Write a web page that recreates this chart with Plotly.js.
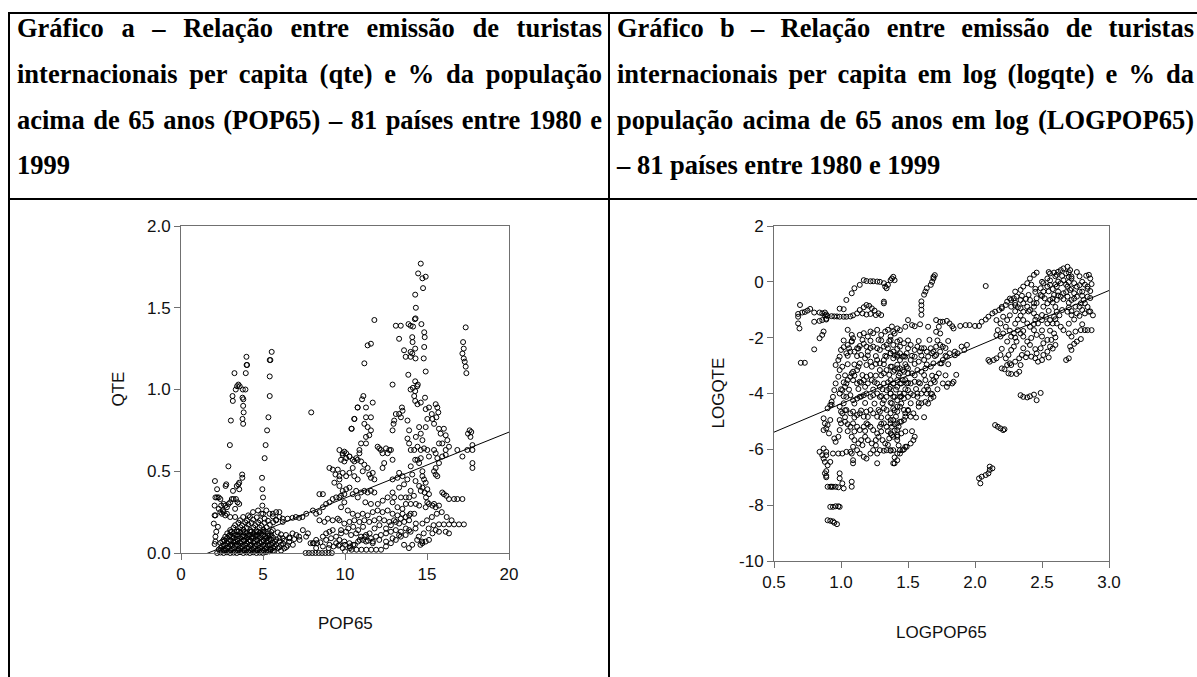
<!DOCTYPE html>
<html><head><meta charset="utf-8">
<script src="https://cdn.plot.ly/plotly-3.0.1.min.js"></script>
<style>
html,body{margin:0;padding:0;width:1197px;height:677px;overflow:hidden;background:#fff;}
#plot{position:absolute;left:0;top:0;width:1197px;height:677px;}
.b{position:absolute;background:#000;}
.ln{position:absolute;font-family:"Liberation Serif","Times New Roman",serif;font-weight:bold;font-size:26.5px;line-height:26.5px;color:#000;text-align:justify;text-align-last:justify;}
.last{text-align:left;text-align-last:left;}
</style></head>
<body>
<div id="plot"></div>
<div class="b" style="left:8px;top:12px;width:1250px;height:2px"></div>
<div class="b" style="left:8px;top:12px;width:2px;height:700px"></div>
<div class="b" style="left:608px;top:12px;width:2px;height:700px"></div>
<div class="b" style="left:8px;top:198px;width:1250px;height:2px"></div>
<div id="hdr"></div>
<script>
// ---- header text ----
const titleA = ["Gráfico a – Relação entre emissão de turistas",
  "internacionais per capita (qte) e % da população",
  "acima de 65 anos (POP65) – 81 países entre 1980 e",
  "1999"];
const titleB = ["Gráfico b – Relação entre emissão de turistas",
  "internacionais per capita em log (logqte) e % da",
  "população acima de 65 anos em log (LOGPOP65)",
  "– 81 países entre 1980 e 1999"];

// ---- chart a: POP65 (x) vs QTE (y) ----
const ptsA = [
[2.07,0.44],[2.2,0.39],[2.1,0.34],[2.2,0.34],[2.3,0.34],[2.4,0.33],[2.05,0.29],[2.05,0.23],[2.1,0.23],[2.0,0.18],[2.15,0.13],[2.25,0.16],[2.1,0.10],[2.05,0.055],[2.1,0.07],
[2.3,0.27],[2.4,0.25],[2.5,0.24],[2.6,0.25],[2.7,0.23],[2.55,0.26],[2.45,0.29],[2.6,0.30],[2.7,0.29],[2.8,0.28],[2.9,0.30],[3.0,0.31],[2.8,0.24],
[2.72,0.41],[2.76,0.42],[2.89,0.53],[2.98,0.66],[3.04,0.81],[3.14,0.96],[3.16,0.93],[3.26,1.10],[3.34,1.00],[3.42,1.02],[3.5,1.03],[3.58,1.02],[3.75,0.95],[3.77,1.0],[3.8,0.94],[3.79,0.90],[3.82,0.86],[3.75,0.82],[3.79,0.79],[3.93,1.00],[3.95,1.10],[3.99,1.20],[4.0,1.15],[4.03,1.15],
[3.73,0.48],[3.74,0.46],[3.4,0.41],[3.5,0.42],[3.55,0.43],[3.55,0.39],[3.17,0.38],[3.1,0.33],[3.2,0.33],[3.35,0.33],[3.45,0.31],[3.55,0.30],[3.3,0.27],[3.0,0.22],[3.3,0.22],
[4.94,0.46],[4.96,0.39],[5.0,0.34],[4.96,0.29],[5.1,0.58],[5.16,0.66],[5.25,0.75],[5.33,0.83],[5.41,0.96],[5.41,1.08],[5.41,1.18],[5.45,1.18],[5.53,1.23],[5.0,0.24],[5.1,0.21],
[7.94,0.86],
[2.2,0],[2.4,0.003],[2.6,0],[2.8,0.004],[3.0,0],[3.2,0.002],[3.4,0],[3.6,0.005],[3.8,0],[4.0,0.003],[4.2,0],[4.4,0.004],[4.6,0],[4.8,0.002],[5.0,0],[5.2,0.006],[5.4,0.01],[5.6,0.012],
[2.3,0.021],[2.72,0.018],[3.1,0.024],[3.52,0.02],[3.9,0.017],[4.33,0.023],[4.7,0.02],[5.12,0.026],[5.5,0.022],[5.9,0.03],[6.3,0.028],
[2.5,0.042],[2.9,0.038],[3.31,0.045],[3.7,0.04],[4.12,0.036],[4.5,0.043],[4.93,0.04],[5.3,0.047],[5.72,0.041],[6.1,0.05],[6.5,0.046],
[2.4,0.062],[2.82,0.058],[3.2,0.065],[3.63,0.06],[4.0,0.057],[4.41,0.064],[4.8,0.06],[5.22,0.066],[5.6,0.061],[6.02,0.07],[6.6,0.068],
[2.6,0.082],[3.0,0.079],[3.42,0.085],[3.8,0.08],[4.21,0.078],[4.6,0.084],[5.02,0.08],[5.4,0.086],[5.81,0.083],[6.2,0.09],[6.9,0.085],
[2.7,0.10],[3.12,0.098],[3.5,0.104],[3.91,0.1],[4.3,0.097],[4.72,0.103],[5.1,0.1],[5.52,0.106],[6.4,0.11],[7.2,0.1],
[2.82,0.12],[3.2,0.118],[3.61,0.124],[4.0,0.12],[4.42,0.117],[4.8,0.123],[5.3,0.12],[5.9,0.126],[6.8,0.12],
[3.0,0.14],[3.41,0.138],[3.8,0.144],[4.22,0.14],[4.6,0.137],[5.02,0.143],[5.6,0.14],
[3.3,0.17],[3.72,0.168],[4.1,0.174],[4.52,0.17],[4.9,0.167],[5.42,0.173],
[3.6,0.20],[4.02,0.198],[4.4,0.204],[4.82,0.2],[5.3,0.197],[5.8,0.203],
[4.2,0.22],[4.62,0.218],[5.6,0.224],[6.0,0.22],
[2.5,0.01],[2.92,0.012],[3.3,0.009],[3.71,0.011],[4.1,0.01],[4.52,0.012],[4.9,0.009],[5.31,0.011],[5.7,0.013],[6.1,0.015],
[2.41,0.031],[2.8,0.03],[3.22,0.032],[3.6,0.029],[4.01,0.031],[4.42,0.03],[4.8,0.033],[5.21,0.03],[5.62,0.032],[6.0,0.035],[6.42,0.036],
[2.6,0.05],[3.02,0.052],[3.4,0.049],[3.81,0.051],[4.2,0.05],[4.62,0.052],[5.0,0.049],[5.41,0.053],[5.8,0.051],[6.22,0.057],
[2.52,0.07],[2.9,0.072],[3.31,0.069],[3.7,0.071],[4.12,0.07],[4.5,0.072],[4.91,0.069],[5.3,0.073],[5.72,0.07],[6.3,0.075],
[2.8,0.09],[3.21,0.092],[3.6,0.089],[4.02,0.091],[4.4,0.09],[4.81,0.092],[5.2,0.089],[5.62,0.093],[6.0,0.092],[6.6,0.095],
[3.0,0.11],[3.4,0.112],[3.82,0.109],[4.2,0.111],[4.62,0.11],[5.0,0.112],[5.42,0.109],[6.1,0.114],
[3.1,0.13],[3.52,0.132],[3.9,0.129],[4.31,0.131],[4.7,0.13],[5.12,0.132],[5.5,0.129],
[3.2,0.155],[3.62,0.157],[4.0,0.154],[4.41,0.156],[4.8,0.155],[5.22,0.157],
[3.5,0.185],[3.92,0.187],[4.3,0.184],[4.71,0.186],[5.1,0.185],[5.62,0.188],
[2.63,0.015],[3.05,0.016],[3.47,0.014],[3.86,0.017],[4.26,0.015],[4.66,0.016],[5.06,0.014],[5.46,0.02],
[2.7,0.046],[3.12,0.047],[3.5,0.044],[3.92,0.046],[4.3,0.045],[4.72,0.047],[5.12,0.044],[5.52,0.05],
[2.66,0.076],[3.06,0.077],[3.46,0.074],[3.86,0.076],[4.26,0.075],[4.66,0.077],[5.06,0.074],[5.5,0.08],
[2.92,0.105],[3.31,0.107],[3.72,0.104],[4.11,0.106],[4.52,0.105],[4.91,0.107],[5.31,0.104],
[3.02,0.128],[3.42,0.13],[3.81,0.127],[4.22,0.129],[4.61,0.128],[5.02,0.13],
[3.79,0.22],[4.1,0.23],[4.39,0.25],[4.7,0.26],[4.9,0.24],[5.2,0.26],[5.4,0.24],[5.6,0.24],[5.8,0.25],[6.0,0.25],[5.8,0.20],[6.2,0.19],
[6.2,0.21],[6.5,0.21],[6.8,0.215],[7.0,0.22],[7.2,0.215],[7.4,0.22],[7.64,0.24],
[7.6,0],[7.8,0],[8.0,0],[8.2,0],[8.4,0],[8.6,0],[8.8,0],[9.0,0],[9.2,0],
[10.4,0.02],[10.7,0.02],[11.0,0.02],[11.3,0.02],[11.6,0.02],[11.9,0.02],
[7.9,0.06],[8.1,0.06],[8.3,0.06],[8.5,0.065],[9.0,0.03],[9.3,0.04],[9.6,0.045],[10.0,0.05],[10.3,0.04],
[10.5,0.05],[10.8,0.07],[11.1,0.08],[11.4,0.075],[11.7,0.07],[14.6,0.05],[14.7,0.07],
[6.82,0.05],[7.03,0.11],[7.23,0.08],[7.43,0.14],[7.63,0.10],[7.74,0.12],[6.62,0.09],
[8.04,0.06],[8.24,0.08],[8.65,0.10],[8.85,0.12],[9.05,0.13],[9.25,0.14],[8.85,0.08],[9.15,0.09],[9.46,0.10],[9.76,0.12],
[8.44,0.20],[8.75,0.19],[8.95,0.21],[9.25,0.20],[9.56,0.21],
[8.24,0.03],[8.65,0.04],[9.05,0.05],[9.46,0.06],
[8.04,0.26],[8.24,0.24],[8.44,0.25],[8.65,0.28],[8.85,0.30],[9.05,0.31],[9.25,0.33],[9.46,0.34],[9.76,0.35],[9.96,0.36],
[8.44,0.36],[8.65,0.36],
[9.05,0.52],[9.25,0.51],[9.42,0.48],[9.56,0.51],[9.66,0.47],[9.35,0.43],
[9.86,0.60],[10.07,0.58],[10.27,0.59],[10.57,0.56],[10.77,0.57],[9.96,0.62],
[10.39,0.76],[10.57,0.82],[10.77,0.89],
[14.62,1.77],[14.46,1.71],[14.72,1.68],[14.92,1.69],[14.76,1.62],[14.28,1.58],[14.32,1.50],[14.3,1.435],[14.26,1.43],[11.79,1.425],
[13.1,1.39],[13.4,1.39],[13.87,1.40],[14.0,1.39],[14.15,1.385],[14.66,1.40],[14.83,1.35],[14.86,1.32],[13.3,1.31],[14.1,1.32],[14.12,1.29],[14.83,1.26],
[13.6,1.24],[14.0,1.23],[14.1,1.22],[14.28,1.25],[11.38,1.27],[11.58,1.28],[13.7,1.20],[14.0,1.20],[14.3,1.19],[14.8,1.19],[11.18,1.16],[14.92,1.11],[13.86,1.09],
[12.9,1.03],[14.28,1.05],[14.14,1.01],[14.0,1.0],[14.28,0.99],[14.4,1.02],[14.44,1.03],
[17.36,1.38],[17.2,1.29],[17.24,1.25],[17.16,1.22],[17.24,1.19],[17.3,1.17],[17.36,1.14],[17.4,1.10],
[11.12,0.96],[11.04,0.94],[10.77,0.89],[11.28,0.89],[11.69,0.92],[10.57,0.82],[10.41,0.76],
[11.28,0.83],[11.58,0.83],[11.18,0.79],[11.38,0.77],[11.58,0.75],[11.48,0.72],[11.28,0.71],[10.98,0.67],[10.88,0.63],[11.28,0.67],
[13.47,0.89],[13.51,0.87],[13.30,0.85],[13.41,0.83],[13.10,0.85],[13.0,0.81],[12.96,0.79],[12.9,0.75],
[13.81,0.81],[13.91,0.75],[13.81,0.70],[13.91,0.67],
[14.22,0.96],[14.28,0.93],[14.42,0.91],[14.62,0.92],[14.88,0.95],
[14.92,0.88],[15.12,0.89],[15.29,0.85],[15.53,0.91],[15.63,0.89],[15.69,0.86],[15.57,0.83],[15.33,0.82],[15.43,0.79],[15.02,0.82],[14.92,0.77],[15.73,0.76],[15.83,0.73],
[16.03,0.76],[16.14,0.72],[16.24,0.69],[15.93,0.67],
[14.52,0.77],[14.62,0.73],[14.72,0.69],[14.32,0.71],
[11.99,0.65],[12.19,0.63],[12.5,0.64],[12.7,0.63],
[9.66,0.63],[9.86,0.61],[10.07,0.61],[9.76,0.57],[9.96,0.56],[10.27,0.59],[10.47,0.57],[10.68,0.58],[10.88,0.61],[10.98,0.56],[11.18,0.54],[11.08,0.50],[11.38,0.52],[11.48,0.48],[11.69,0.49],[11.79,0.45],[11.58,0.46],
[10.47,0.52],[10.27,0.49],[10.07,0.47],[9.86,0.49],[9.66,0.45],[10.57,0.47],[10.77,0.45],
[12.09,0.64],[12.29,0.61],[12.6,0.61],[12.29,0.52],[12.39,0.55],[12.8,0.63],[12.9,0.57],
[14.01,0.63],[14.22,0.63],[14.42,0.65],[14.62,0.63],[14.82,0.64],[15.02,0.63],[15.12,0.59],[15.43,0.63],[15.73,0.67],
[14.01,0.53],[14.28,0.57],[14.42,0.57],[14.62,0.58],[14.52,0.55],
[15.53,0.61],[15.63,0.58],[15.73,0.55],[15.93,0.59],[16.14,0.60],
[14.72,0.47],[14.82,0.45],[14.92,0.43],[15.02,0.39],[14.86,0.37],[14.94,0.34],[15.02,0.31],[15.12,0.30],[15.12,0.36],[14.72,0.50],
[15.53,0.52],[15.53,0.48],[15.63,0.47],[15.43,0.50],
[13.30,0.49],[13.51,0.47],[13.2,0.46],[12.9,0.45],[13.3,0.40],
[16.14,0.63],[16.34,0.65],
[16.85,0.63],[17.16,0.59],[17.46,0.63],[17.77,0.66],[17.77,0.63],[17.77,0.55],[17.77,0.52],[17.5,0.73],[17.6,0.75],[17.7,0.74],[17.65,0.71],
[9.66,0.41],[9.86,0.38],[10.07,0.39],[10.27,0.40],[10.47,0.36],[10.68,0.38],[10.78,0.34],[10.98,0.37],[11.18,0.38],[11.38,0.37],[11.58,0.38],[11.79,0.37],
[9.66,0.34],[9.96,0.31],[9.76,0.28],[10.17,0.26],[11.24,0.31],[11.58,0.30],
[12.9,0.37],[13.0,0.34],[13.41,0.34],[13.71,0.34],[13.91,0.34],
[14.52,0.41],[14.62,0.38],[14.72,0.40],
[15.93,0.37],[16.03,0.36],[16.18,0.35],[16.34,0.33],[16.65,0.33],[16.85,0.33],[17.16,0.33],
[13.71,0.30],[14.01,0.30],[14.32,0.30],[14.52,0.29],[14.92,0.28],[15.33,0.29],[15.43,0.30],[15.53,0.28],[15.73,0.29],
[11.69,0.25],[11.99,0.26],[12.29,0.25],[12.6,0.26],[12.9,0.24],[13.2,0.23],[13.51,0.24],[13.91,0.23],[14.22,0.24],[10.47,0.24],[10.78,0.23],[11.08,0.24],[11.38,0.23],
[9.66,0.20],[9.96,0.18],[10.27,0.19],[10.57,0.20],[10.88,0.19],[11.18,0.20],[11.48,0.19],[11.79,0.20],[12.09,0.21],[12.39,0.20],[12.7,0.19],[12.99,0.20],[13.3,0.18],[13.61,0.19],[13.91,0.20],[14.32,0.18],[14.72,0.18],
[15.73,0.175],[16.03,0.175],[16.34,0.175],[16.65,0.175],[16.95,0.175],[17.25,0.175],
[15.33,0.12],[15.73,0.13],[16.14,0.13],[16.34,0.12],[15.53,0.14],
[14.72,0.06],[14.92,0.07],[15.12,0.08],
[9.76,0.14],[10.07,0.13],[10.37,0.11],[10.68,0.12],[10.98,0.10],[11.28,0.11],[11.58,0.09],[11.89,0.10],[12.19,0.11],[12.5,0.12],[12.8,0.13],[13.1,0.14],[13.41,0.13],[13.71,0.15],[13.91,0.14],
[9.66,0.08],[9.96,0.07],[10.27,0.06],[11.28,0.07],[11.69,0.06],[12.09,0.08],[12.5,0.07],[12.9,0.09],[13.3,0.11],
[9.86,0.03],[9.66,0.05],
[10.0,0.01],[10.3,0.03],[10.6,0.05],[10.9,0.08],[11.2,0.1],[11.5,0.12],[11.8,0.15],[12.1,0.17],
[12.2,0.02],[12.5,0.04],[12.8,0.06],[13.1,0.08],[13.4,0.1],[13.7,0.11],[14.0,0.13],[14.3,0.15],
[12.0,0.3],[12.3,0.32],[12.6,0.34],[12.9,0.31],[13.2,0.28],[13.5,0.27],
[14.1,0.05],[14.4,0.08],[13.9,0.03],[13.6,0.05],
[15.0,0.2],[15.3,0.22],[15.6,0.24],[15.9,0.25],[16.2,0.22],[16.5,0.2],
[12.5,0.15],[12.8,0.17],[13.1,0.19],[13.4,0.21],[13.7,0.22],[14.0,0.24],
[10.2,0.15],[10.5,0.16],[10.8,0.14],[11.1,0.16],
[14.5,0.1],[14.8,0.12],[15.1,0.15],[15.4,0.17],
[13.8,0.45],[14.1,0.48],[14.3,0.44],[13.6,0.42],[14.0,0.38],[14.2,0.35]
];
const popA = ptsA.map(p => p[0]);
const qteA = ptsA.map(p => p[1]);
const fitA = {intercept: -0.0666, slope: 0.0403};
const fitAx = [0, 20];

// ---- chart b: LOGPOP65 (x) vs LOGQTE (y) ----
const ptsB = [
[0.694,-0.83],[0.68,-1.25],[0.68,-1.49],[0.69,-1.67],[0.68,-1.15],
[0.71,-1.1],[0.73,-1.08],[0.75,-1.03],[0.77,-0.97],[0.80,-1.1],[0.84,-1.1],[0.86,-1.13],
[0.70,-2.9],[0.73,-2.9],
[0.80,-1.43],[0.84,-1.4],[0.86,-1.37],[0.89,-1.35],
[0.88,-1.1],[0.88,-1.2],[0.89,-1.32],[0.89,-1.17],
[0.90,-1.23],[0.93,-1.23],[0.95,-1.24],[0.97,-1.24],[0.99,-1.25],[1.02,-1.25],[1.04,-1.25],[1.07,-1.24],[1.09,-1.2],
[0.99,-0.96],[1.02,-0.98],
[0.84,-2.02],[0.86,-1.9],[0.87,-1.78],[0.80,-2.42],
[1.04,-0.65],[1.08,-0.41],[1.10,-0.23],[1.14,-0.11],[1.17,0.06],
[1.19,0.03],[1.22,0.02],[1.24,0.02],[1.27,0.01],[1.29,0.0],[1.32,-0.05],[1.33,-0.17],[1.34,-0.23],[1.35,-0.11],[1.37,0.06],[1.38,0.12],[1.39,0.18],[1.4,0.06],
[1.32,-0.71],[1.32,-0.77],
[1.14,-1.01],[1.17,-0.91],[1.19,-0.83],[1.21,-0.86],[1.23,-0.95],[1.25,-1.03],[1.28,-1.13],[1.3,-1.19],[1.16,-1.13],[1.19,-1.17],[1.22,-1.15],[1.26,-1.19],[1.12,-1.13],
[1.05,-1.72],[1.08,-1.9],[1.09,-2.02],[1.08,-2.14],[1.05,-2.26],[1.02,-2.34],[1.0,-2.44],[1.04,-2.56],[1.07,-2.5],[0.99,-2.68],[0.98,-2.8],[0.96,-2.98],[1.01,-3.04],
[1.14,-1.9],[1.17,-1.84],[1.2,-1.96],[1.24,-1.84],[1.27,-1.72],[1.22,-1.78],
[0.99,-3.16],[0.98,-3.4],[0.96,-3.64],[0.95,-3.88],[0.94,-4.12],[0.93,-4.4],
[0.99,-4.0],[1.01,-3.88],[1.03,-3.76],[1.04,-3.64],[1.05,-3.52],[1.07,-3.4],[1.08,-3.28],[1.09,-3.22],[1.12,-3.16],[1.13,-3.04],
[1.10,-2.5],[1.12,-2.38],[1.14,-2.3],[1.17,-2.22],[1.19,-2.32],[1.2,-2.5],[1.15,-2.62],[1.18,-2.74],[1.19,-2.98],[1.14,-2.92],[1.22,-2.86],[1.23,-3.04],
[1.24,-2.32],[1.27,-2.38],[1.29,-2.44],[1.32,-2.32],[1.34,-2.26],[1.28,-2.08],[1.3,-1.9],[1.33,-1.78],[1.35,-1.72],[1.38,-1.6],[1.39,-1.78],[1.37,-1.96],
[1.27,-2.8],[1.29,-2.92],[1.32,-2.8],[1.34,-2.68],[1.37,-2.56],[1.39,-2.5],[1.42,-2.62],[1.44,-2.56],[1.46,-2.68],[1.49,-2.56],
[1.29,-3.16],[1.32,-3.28],[1.34,-3.16],[1.37,-3.04],[1.39,-3.22],[1.42,-3.1],[1.44,-3.28],[1.46,-3.16],[1.49,-3.04],[1.5,-3.28],
[1.09,-3.52],[1.12,-3.64],[1.14,-3.58],[1.17,-3.52],[1.19,-3.4],[1.22,-3.34],[1.23,-3.52],[1.2,-3.64],[1.18,-3.76],
[1.27,-3.64],[1.29,-3.76],[1.32,-3.64],[1.34,-3.88],[1.37,-3.76],[1.39,-3.64],[1.42,-3.76],[1.44,-3.64],[1.46,-3.52],[1.49,-3.64],[1.5,-3.88],
[1.04,-4.12],[1.07,-4.06],[1.09,-4.24],[1.12,-4.18],[1.14,-4.12],[1.17,-4.06],[1.19,-4.0],[1.22,-4.12],[1.24,-4.06],[1.27,-4.0],[1.29,-4.12],[1.32,-4.24],[1.34,-4.12],[1.37,-4.0],[1.39,-4.12],[1.42,-4.24],[1.44,-4.12],[1.47,-4.0],[1.5,-4.12],
[0.99,-4.47],[1.0,-4.65],[1.01,-4.71],[1.04,-4.59],[1.07,-4.71],[1.09,-4.65],[1.12,-4.77],[1.14,-4.71],[1.17,-4.83],[1.19,-4.65],[1.22,-4.59],[1.24,-4.71],[1.27,-4.83],[1.29,-4.65],[1.32,-4.53],[1.34,-4.59],[1.37,-4.71],[1.39,-4.53],[1.42,-4.65],[1.44,-4.47],[1.47,-4.59],
[0.99,-4.95],[1.0,-5.07],[1.03,-5.01],[1.07,-5.19],[1.09,-5.07],[1.12,-5.19],[1.14,-5.31],[1.17,-5.19],[1.19,-5.07],[1.22,-5.19],[1.24,-5.31],[1.27,-5.43],[1.29,-5.19],[1.32,-5.07],[1.34,-5.19],[1.37,-5.07],[1.39,-4.95],[1.42,-5.07],[1.45,-5.01],
[1.08,-5.55],[1.10,-5.67],[1.13,-5.79],[1.15,-5.67],[1.18,-5.55],[1.2,-5.67],[1.23,-5.79],[1.26,-5.67],[1.28,-5.55],[1.31,-5.67],[1.33,-5.79],[1.36,-5.61],[1.38,-5.49],[1.42,-5.55],[1.45,-5.43],
[1.09,-5.91],[1.12,-6.03],[1.14,-6.15],[1.17,-6.27],[1.19,-6.33],[1.22,-6.15],[1.24,-6.03],[1.27,-6.15],[1.29,-6.03],[1.32,-6.05],[1.34,-6.03],[1.37,-6.05],[1.39,-6.03],[1.27,-6.5],[1.40,-6.5],[1.42,-6.39],[1.44,-6.15],[1.46,-6.03],[1.49,-5.91],
[1.08,-6.15],[1.09,-6.39],[1.09,-6.5],
[0.84,-6.09],[0.86,-6.21],[0.87,-6.33],[0.88,-6.45],[0.90,-6.57],[0.92,-6.45],[0.89,-6.21],
[0.87,-5.97],[0.89,-6.09],[0.94,-6.15],[0.98,-6.15],[1.01,-6.15],[1.04,-6.09],[1.07,-6.09],
[0.88,-6.86],[0.89,-6.95],[0.89,-7.0],[0.89,-6.78],
[0.90,-7.34],[0.92,-7.34],[0.93,-7.34],[0.94,-7.34],[0.96,-7.34],[0.98,-7.36],
[0.92,-8.06],[0.94,-8.06],[0.96,-8.04],[0.98,-8.04],[0.99,-8.06],
[0.90,-8.54],[0.92,-8.56],[0.94,-8.58],[0.95,-8.63],[0.97,-8.68],
[0.99,-6.86],[0.99,-7.04],[1.01,-7.22],[1.02,-7.4],
[1.08,-7.16],[1.08,-7.34],
[0.87,-4.89],[0.88,-5.07],[0.89,-5.25],[0.91,-5.43],[0.87,-5.31],[0.9,-5.13],[0.92,-4.95],
[0.98,-5.55],[0.96,-5.73],[0.95,-5.61],
[0.92,-4.41],[0.93,-4.3],[0.9,-4.53],[0.99,-5.31],
[1.62,-0.46],[1.63,-0.35],[1.64,-0.23],[1.67,-0.11],[1.68,0.0],[1.69,0.12],[1.7,0.24],[1.69,0.18],
[1.6,-0.7],[1.6,-0.84],[1.6,-1.0],[1.6,-1.18],
[1.5,-1.37],[1.48,-1.61],[1.42,-1.67],[1.44,-1.73],[1.4,-1.85],
[1.53,-1.55],[1.55,-1.59],[1.59,-1.52],
[1.71,-1.37],[1.74,-1.43],[1.76,-1.43],[1.79,-1.4],[1.81,-1.49],[1.83,-1.59],[1.84,-1.67],
[1.73,-1.61],[1.74,-1.85],[1.71,-1.79],[1.65,-1.61],
[1.89,-1.58],[1.93,-1.55],[1.96,-1.55],[2.0,-1.58],[2.03,-1.58],
[2.05,-1.43],[2.08,-1.35],[2.1,-1.25],[2.13,-1.13],[2.15,-1.07],[2.18,-1.01],[2.2,-0.95],
[2.08,-0.15],
[2.14,-2.8],[2.16,-2.74],[2.19,-2.62],[2.11,-2.86],[2.1,-2.8],
[2.2,-3.1],[2.22,-3.13],[2.25,-3.28],[2.27,-3.3],[2.31,-3.3],[2.33,-3.22],[2.24,-2.98],[2.26,-2.92],
[2.34,-4.06],[2.36,-4.12],[2.39,-4.14],[2.41,-4.1],[2.44,-4.04],[2.46,-4.24],[2.49,-3.98],
[2.15,-5.13],[2.17,-5.19],[2.19,-5.25],[2.21,-5.31],[2.22,-5.28],
[2.03,-7.04],[2.04,-7.22],[2.05,-6.98],[2.08,-6.92],[2.1,-6.86],[2.11,-6.62],[2.13,-6.68],[2.11,-6.74],
[2.70,-2.74],[2.68,-2.8],
[2.71,-2.32],[2.74,-2.22],[2.76,-2.14],[2.79,-2.05],[2.72,-2.44],
[2.75,-1.78],[2.79,-1.73],[2.82,-1.73],[2.84,-1.73],[2.87,-1.73],
[2.56,0.05],
[2.46,0.33],[2.44,0.25],[2.41,0.12],[2.39,-0.05],[2.36,-0.17],[2.34,-0.29],
[2.56,0.3],[2.59,0.33],[2.61,0.25],[2.64,0.42],[2.66,0.48],[2.69,0.54],[2.71,0.42],[2.68,0.3],[2.7,0.18],[2.72,0.12],[2.74,-0.05],[2.76,-0.17],[2.66,0.06],[2.64,-0.05],[2.61,-0.17],[2.69,-0.17],[2.71,-0.29],[2.74,-0.41],[2.76,-0.53],[2.72,-0.65],[2.69,-0.53],[2.66,-0.41],[2.64,-0.53],[2.61,-0.65],[2.59,-0.47],[2.56,-0.65],[2.54,-0.77],[2.51,-0.89],[2.75,-0.89],[2.79,-0.77],[2.81,-0.65],[2.84,-0.53],[2.86,0.12],[2.85,0.25],[2.84,-0.17],[2.8,-0.35],[2.78,-0.89],[2.8,-1.01],[2.82,-1.13],[2.85,-1.07],[2.76,-1.13],[2.72,-1.19],[2.69,-1.07],[2.65,-1.01],[2.61,-1.07],[2.59,-1.25],[2.56,-1.37],[2.54,-1.49],[2.61,-1.49],[2.64,-1.61],[2.66,-1.73],[2.7,-1.85],[2.72,-1.96],[2.59,-1.85],[2.57,-2.08],[2.6,-2.26],[2.56,-2.32],[2.54,-2.5],[2.51,-2.62],[2.5,-2.8],[2.47,-2.86],[2.45,-2.74],[2.42,-2.68],[2.46,-2.56],[2.49,-2.38],[2.51,-2.2],[2.54,-2.08],[2.5,-1.96],[2.46,-1.9],[2.44,-1.73],[2.41,-1.61],[2.39,-1.49],[2.36,-1.37],[2.47,-1.49],[2.5,-1.37],[2.53,-1.25],[2.46,-1.25],[2.44,-1.13],[2.41,-1.01],[2.39,-0.89],[2.36,-0.77],[2.34,-0.65],[2.31,-0.53],[2.29,-0.59],[2.27,-0.65],[2.24,-0.71],[2.23,-0.83],[2.27,-0.89],[2.3,-0.83],[2.34,-0.95],[2.36,-1.07],[2.41,-0.65],[2.44,-0.77],[2.46,-0.59],[2.49,-0.47],[2.51,-0.35],[2.49,-0.23],[2.54,-0.17],[2.51,-0.05],[2.54,0.12],[2.4,-0.47],
[2.24,-2.14],[2.27,-1.96],[2.29,-1.85],[2.32,-1.73],[2.34,-1.85],[2.36,-1.96],[2.39,-2.14],[2.41,-2.26],[2.31,-2.14],[2.29,-2.32],[2.27,-2.44],[2.25,-2.62],[2.23,-2.74],[2.36,-2.38],[2.39,-2.56],[2.35,-2.62],[2.33,-2.74],[2.3,-2.86],[2.34,-2.98],[2.27,-2.98],
[2.21,-1.25],[2.24,-1.37],[2.23,-1.61],[2.21,-1.85],[2.19,-1.96],[2.16,-1.91],[2.17,-1.73],[2.19,-1.49],[2.16,-1.37],
[1.37,-2.08],[1.39,-2.26],[1.42,-2.14],[1.44,-2.32],[1.47,-2.2],[1.5,-2.38],[1.52,-2.26],[1.55,-2.44],[1.57,-2.32],[1.59,-2.5],[1.62,-2.38],[1.64,-2.5],[1.67,-2.38],[1.69,-2.5],[1.71,-2.32],[1.74,-2.26],[1.76,-2.32],
[1.37,-2.56],[1.39,-2.74],[1.42,-2.68],[1.44,-2.8],[1.48,-2.68],[1.52,-2.8],[1.55,-2.68],[1.58,-2.86],[1.62,-2.8],[1.65,-2.68],[1.68,-2.56],[1.71,-2.62],[1.74,-2.5],
[1.38,-3.04],[1.4,-3.16],[1.44,-3.1],[1.47,-3.22],[1.5,-3.1],[1.53,-3.28],[1.57,-3.16],[1.6,-3.22],[1.63,-3.1],[1.67,-3.04],[1.69,-2.92],[1.74,-2.92],[1.76,-2.8],[1.79,-2.68],[1.81,-2.56],[1.85,-2.5],[1.87,-2.56],[1.9,-2.32],[1.94,-2.26],[1.92,-2.44],
[1.37,-3.52],[1.39,-3.64],[1.42,-3.52],[1.45,-3.64],[1.48,-3.52],[1.52,-3.64],[1.55,-3.58],[1.59,-3.64],[1.63,-3.52],[1.67,-3.64],[1.71,-3.4],[1.73,-3.28],[1.75,-2.92],[1.69,-3.52],[1.64,-3.76],[1.62,-3.88],
[1.76,-3.64],[1.8,-3.64],[1.83,-3.64],[1.84,-3.58],[1.79,-3.76],
[1.52,-4.0],[1.54,-4.06],[1.57,-4.0],[1.6,-4.0],[1.64,-4.0],[1.67,-4.0],[1.68,-4.02],
[1.37,-4.0],[1.4,-4.12],[1.44,-4.0],[1.47,-4.18],[1.38,-4.35],[1.42,-4.47],
[1.5,-4.59],[1.48,-4.71],[1.48,-4.83],[1.47,-4.95],[1.44,-5.01],[1.43,-5.19],[1.42,-5.31],[1.42,-5.49],[1.42,-5.67],
[1.55,-5.55],[1.54,-5.67],[1.52,-5.79],[1.48,-5.91],[1.47,-6.0],[1.44,-6.03],[1.42,-6.15],[1.4,-6.29],[1.39,-6.5],
[1.37,-6.03],[1.37,-4.95],[1.38,-5.19],[1.37,-5.43],[1.39,-5.55],
[1.52,-4.83],[1.54,-4.71],[1.58,-4.47],[1.6,-4.35],[1.63,-4.3],[1.67,-4.18],[1.69,-4.12],
[1.02,-2.1],[1.08,-2.12],[1.16,-2.08],[1.22,-2.11],[1.3,-2.1],[1.36,-2.12],[1.44,-2.09],[1.5,-2.1],[1.58,-2.12],[1.66,-2.08],[1.72,-2.1],[1.8,-2.12],
[1.05,-2.65],[1.12,-2.66],[1.2,-2.64],[1.26,-2.66],[1.33,-2.65],[1.4,-2.63],[1.47,-2.66],[1.53,-2.65],[1.6,-2.64],[1.7,-2.66],[1.78,-2.65],[1.85,-2.63],
[1.03,-3.35],[1.1,-3.36],[1.16,-3.34],[1.26,-3.36],[1.3,-3.35],[1.36,-3.33],[1.43,-3.36],[1.55,-3.35],[1.62,-3.34],[1.68,-3.36],[1.78,-3.35],[1.86,-3.33],
[1.0,-3.85],[1.06,-3.86],[1.13,-3.84],[1.24,-3.86],[1.31,-3.85],[1.36,-3.83],[1.41,-3.86],[1.48,-3.85],[1.56,-3.84],[1.65,-3.86],[1.72,-3.85],
[1.02,-4.35],[1.1,-4.36],[1.18,-4.34],[1.25,-4.36],[1.31,-4.35],[1.37,-4.33],[1.45,-4.36],[1.52,-4.35],[1.58,-4.34],[1.65,-4.36],
[1.03,-4.85],[1.1,-4.86],[1.2,-4.84],[1.3,-4.86],[1.35,-4.85],[1.41,-4.83],[1.56,-4.86],[1.62,-4.85],
[1.05,-5.35],[1.1,-5.36],[1.18,-5.34],[1.3,-5.36],[1.35,-5.35],[1.4,-5.33],[1.48,-5.36],[1.53,-5.35],
[1.16,-5.85],[1.26,-5.86],[1.35,-5.84],[1.43,-5.86],
[1.06,-2.38],[1.13,-2.39],[1.22,-2.37],[1.35,-2.38],[1.42,-2.4],[1.6,-2.38],[1.78,-2.37],
[1.05,-2.95],[1.1,-2.96],[1.26,-2.94],[1.32,-2.95],[1.42,-2.97],[1.48,-2.95],[1.55,-2.94],[1.64,-2.96],[1.8,-2.95],
[1.02,-3.6],[1.15,-3.61],[1.25,-3.59],[1.35,-3.6],[1.5,-3.62],[1.58,-3.6],[1.7,-3.59],
[1.02,-4.1],[1.15,-4.11],[1.3,-4.09],[1.45,-4.1],[1.57,-4.12],
[1.03,-4.6],[1.15,-4.61],[1.28,-4.59],[1.4,-4.6],[1.5,-4.62],
[1.05,-5.1],[1.2,-5.11],[1.3,-5.09],[1.4,-5.1],
[2.6,0.2],[2.65,0.21],[2.72,0.19],[2.78,0.2],[2.83,0.22],
[2.42,-0.1],[2.56,-0.11],[2.6,-0.09],[2.68,-0.1],[2.78,-0.12],[2.82,-0.1],[2.87,-0.08],
[2.3,-0.35],[2.45,-0.36],[2.55,-0.34],[2.62,-0.35],[2.68,-0.37],[2.78,-0.35],[2.86,-0.33],
[2.26,-0.6],[2.38,-0.61],[2.52,-0.59],[2.58,-0.6],[2.66,-0.62],[2.74,-0.6],[2.86,-0.58],
[2.2,-0.9],[2.32,-0.91],[2.44,-0.89],[2.6,-0.9],[2.7,-0.92],[2.84,-0.9],
[2.26,-1.2],[2.34,-1.21],[2.5,-1.19],[2.63,-1.2],[2.78,-1.22],[2.88,-1.2],
[2.3,-1.5],[2.44,-1.51],[2.58,-1.49],[2.7,-1.5],[2.8,-1.52],
[2.26,-1.75],[2.36,-1.76],[2.5,-1.74],[2.56,-1.75],
[2.3,-2.0],[2.42,-2.01],[2.6,-1.99],
[2.2,-2.4],[2.45,-2.41],[2.58,-2.39],
[2.38,-2.7],[2.55,-2.71],
[2.55,0.35],[2.62,0.36],[2.7,0.34],[2.76,0.35],
[2.5,0.0],[2.62,0.01],[2.7,-0.01],[2.8,0.0],
[2.45,-0.25],[2.58,-0.26],[2.72,-0.24],[2.84,-0.25],
[2.35,-0.5],[2.5,-0.51],[2.62,-0.49],[2.8,-0.5],
[2.3,-0.75],[2.46,-0.76],[2.58,-0.74],[2.7,-0.75],[2.82,-0.77],
[2.3,-1.05],[2.4,-1.06],[2.55,-1.04],[2.72,-1.05],[2.86,-1.06],
[2.32,-1.35],[2.45,-1.36],[2.6,-1.34],[2.74,-1.35]
];
const logpopB = ptsB.map(p => p[0]);
const logqteB = ptsB.map(p => p[1]);
const fitB = {intercept: -6.4, slope: 2.03};
const fitBx = [0.5, 3.0];

// ---- header ----
const hdr = document.getElementById('hdr');
const lineTops = [15, 61, 107, 152];
function addLines(lines, left, width) {
  lines.forEach((t, i) => {
    const d = document.createElement('div');
    d.className = 'ln' + (i === lines.length - 1 ? ' last' : '');
    d.style.left = left + 'px'; d.style.top = lineTops[i] + 'px'; d.style.width = width + 'px';
    d.textContent = t;
    hdr.appendChild(d);
  });
}
addLines(titleA, 17, 585);
addLines(titleB, 617, 577);

// ---- plot ----
const mk = {symbol: 'circle-open', size: 5, color: '#000', line: {width: 1, color: '#000'}};
const traces = [
  {type: 'scatter', mode: 'markers', x: popA, y: qteA, xaxis: 'x', yaxis: 'y', marker: mk, cliponaxis: false, hoverinfo: 'skip'},
  {type: 'scatter', mode: 'lines', x: fitAx, y: fitAx.map(v => fitA.intercept + fitA.slope * v), xaxis: 'x', yaxis: 'y', line: {color: '#000', width: 1}, hoverinfo: 'skip'},
  {type: 'scatter', mode: 'markers', x: logpopB, y: logqteB, xaxis: 'x2', yaxis: 'y2', marker: mk, cliponaxis: false, hoverinfo: 'skip'},
  {type: 'scatter', mode: 'lines', x: fitBx, y: fitBx.map(v => fitB.intercept + fitB.slope * v), xaxis: 'x2', yaxis: 'y2', line: {color: '#000', width: 1}, hoverinfo: 'skip'}
];
const W = 1197, H = 677;
const axBase = {ticks: 'outside', ticklen: 6, tickcolor: '#707070', tickwidth: 1, showline: true, linecolor: '#707070', linewidth: 1, mirror: true, showgrid: false, zeroline: false, fixedrange: true, tickfont: {size: 17, color: '#111'}};
const layout = {
  width: W, height: H, margin: {l: 0, r: 0, t: 0, b: 0},
  paper_bgcolor: 'rgba(0,0,0,0)', plot_bgcolor: 'rgba(0,0,0,0)', showlegend: false,
  font: {family: 'Arial, "Liberation Sans", sans-serif', size: 17, color: '#111'},
  xaxis: Object.assign({}, axBase, {domain: [181 / W, 509 / W], range: [0, 20], tickvals: [0, 5, 10, 15, 20], anchor: 'y'}),
  yaxis: Object.assign({}, axBase, {domain: [1 - 553 / H, 1 - 226 / H], range: [0, 2], tickvals: [0, 0.5, 1, 1.5, 2], ticktext: ['0.0', '0.5', '1.0', '1.5', '2.0'], anchor: 'x'}),
  xaxis2: Object.assign({}, axBase, {domain: [774 / W, 1109 / W], range: [0.5, 3.0], tickvals: [0.5, 1, 1.5, 2, 2.5, 3], ticktext: ['0.5', '1.0', '1.5', '2.0', '2.5', '3.0'], anchor: 'y2'}),
  yaxis2: Object.assign({}, axBase, {domain: [1 - 561 / H, 1 - 226 / H], range: [-10, 2], tickvals: [-10, -8, -6, -4, -2, 0, 2], ticktext: ['-10', '-8', '-6', '-4', '-2', '0', '2'], anchor: 'x2'}),
  annotations: [
    {text: 'QTE', xref: 'paper', yref: 'paper', x: 118 / W, y: 1 - 389.5 / H, textangle: -90, showarrow: false, font: {size: 17, color: '#111'}, xanchor: 'center', yanchor: 'middle'},
    {text: 'POP65', xref: 'paper', yref: 'paper', x: 345 / W, y: 1 - 623 / H, showarrow: false, font: {size: 17, color: '#111'}, xanchor: 'center', yanchor: 'middle'},
    {text: 'LOGQTE', xref: 'paper', yref: 'paper', x: 718 / W, y: 1 - 393.5 / H, textangle: -90, showarrow: false, font: {size: 17, color: '#111'}, xanchor: 'center', yanchor: 'middle'},
    {text: 'LOGPOP65', xref: 'paper', yref: 'paper', x: 941.5 / W, y: 1 - 632 / H, showarrow: false, font: {size: 17, color: '#111'}, xanchor: 'center', yanchor: 'middle'}
  ]
};
Plotly.newPlot('plot', traces, layout, {staticPlot: true, displayModeBar: false});
</script>
</body></html>
